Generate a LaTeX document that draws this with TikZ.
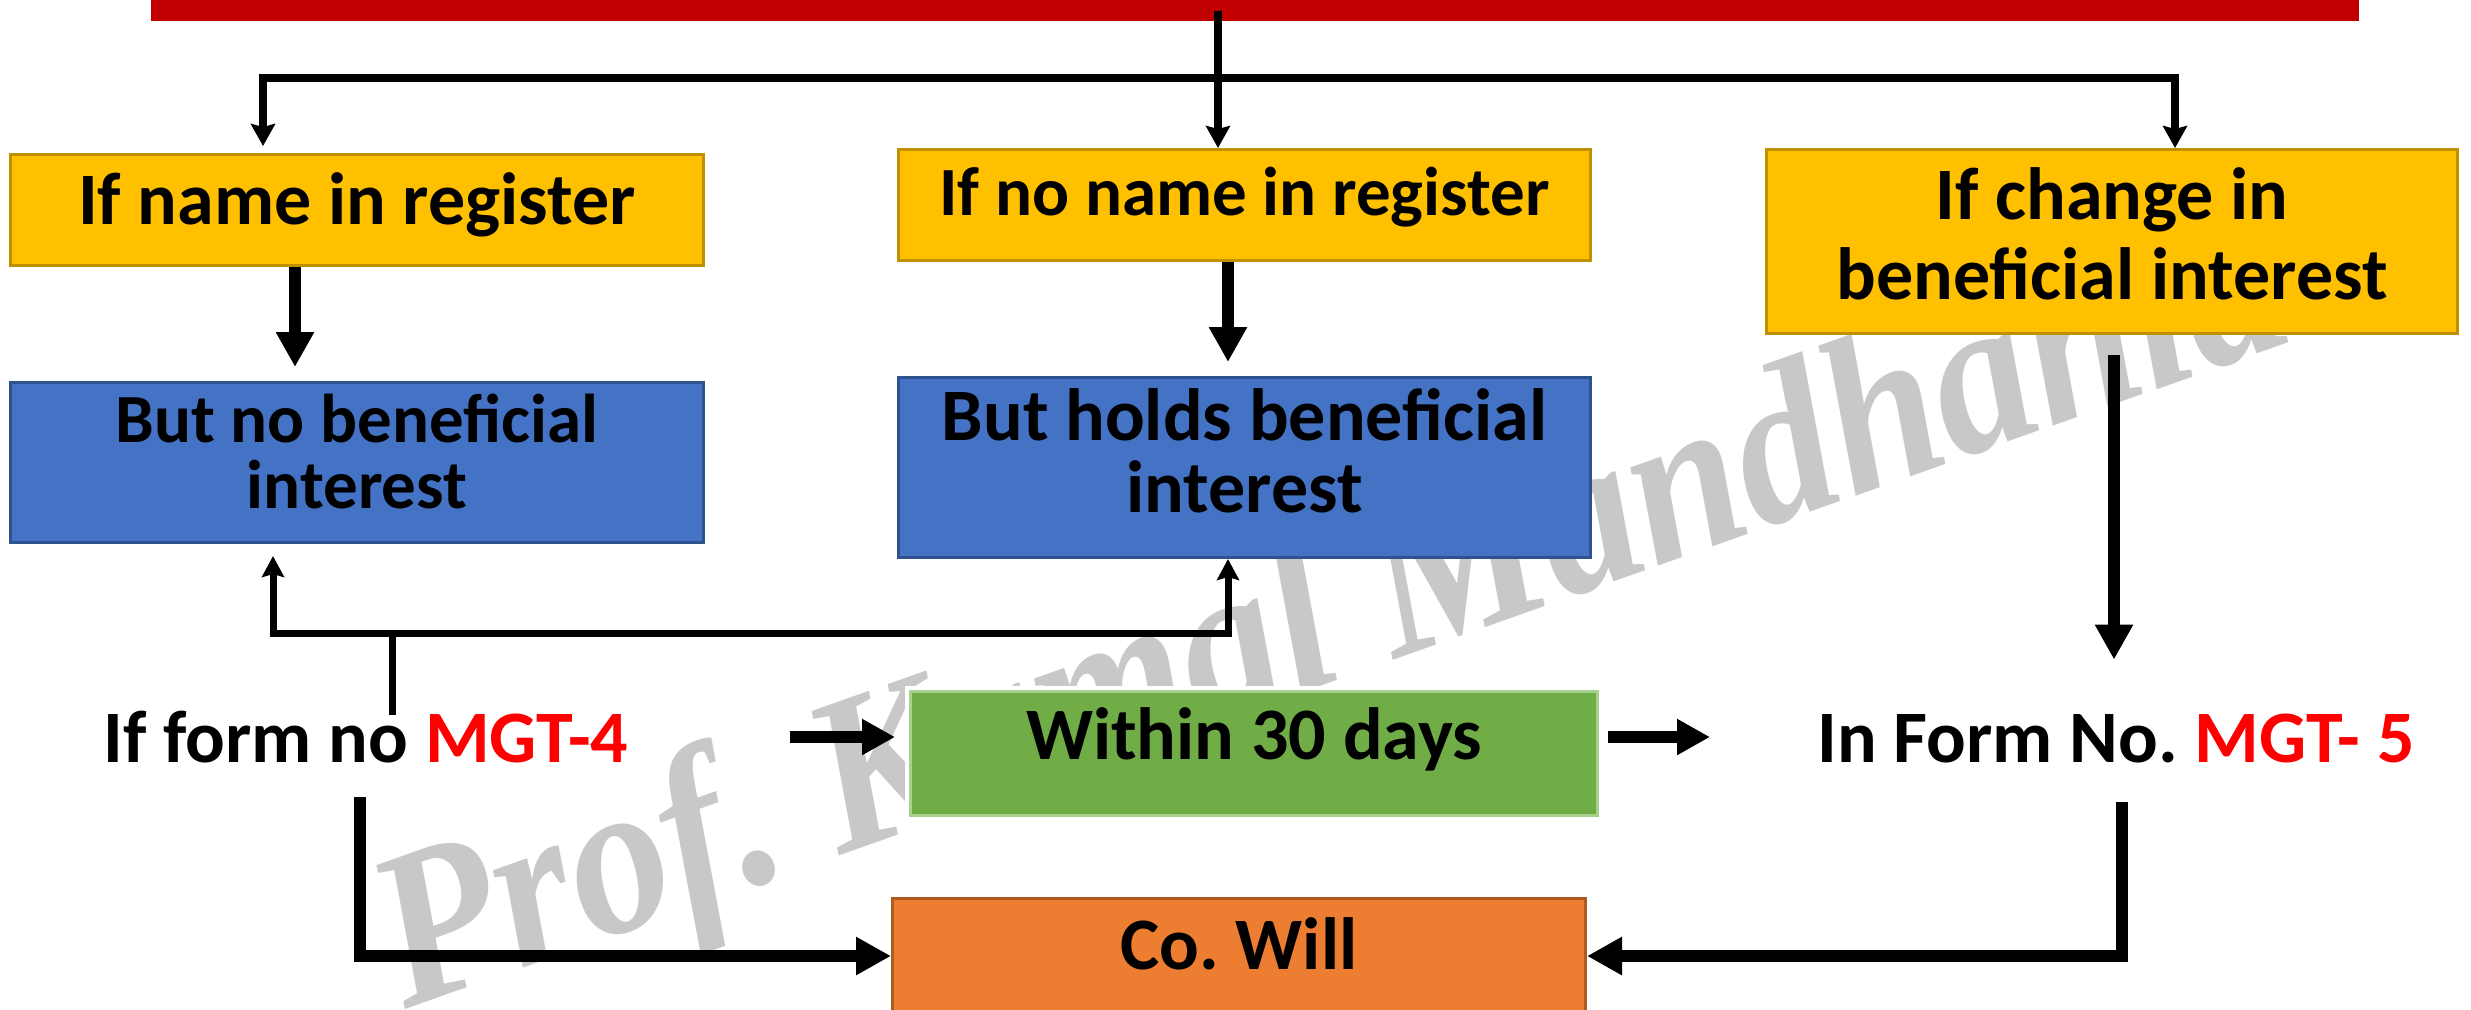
\documentclass[tikz,border=0pt]{standalone}
\usepackage{fontspec}
\setmainfont{Carlito}
\newfontfamily\markfont{Liberation Serif}
\usetikzlibrary{arrows.meta}
\frenchspacing

\definecolor{barred}{HTML}{C00000}
\definecolor{ambfill}{HTML}{FFC000}
\definecolor{ambline}{HTML}{BF9000}
\definecolor{bluefill}{HTML}{4472C4}
\definecolor{blueline}{HTML}{2F528F}
\definecolor{greenfill}{HTML}{70AD47}
\definecolor{greenline}{HTML}{A9D18E}
\definecolor{orangefill}{HTML}{ED7D31}
\definecolor{orangeline}{HTML}{AE5A21}
\definecolor{formred}{HTML}{FF0000}
\definecolor{markgray}{HTML}{C8C8C8}

\begin{document}
\begin{tikzpicture}[x=0.5pt,y=-0.5pt,
  box/.style={rectangle, inner sep=0pt, line width=1.5pt, anchor=north west,
              font=\bfseries\fontsize{37}{40}\selectfont},
  ambbox/.style={box, fill=ambfill, draw=ambline},
  bluebox/.style={box, fill=bluefill, draw=blueline},
  greenbox/.style={box, fill=greenfill, draw=greenline},
  orangebox/.style={box, fill=orangefill, draw=orangeline},
  formtext/.style={inner sep=0pt, anchor=base, font=\bfseries\fontsize{37}{40}\selectfont},
  slimline/.style={line width=3.75pt},
  fineline/.style={line width=3.5pt},
  heavyline/.style={line width=6pt},
  slimtip/.style={-{Stealth[length=11pt,width=12pt,inset=1.5pt]}},
  finetip/.style={-{Stealth[length=10.5pt,width=11pt,inset=1.5pt]}},
  heavytip/.style={-{Triangle[length=17.5pt,width=18pt]}},
  sidetip/.style={-{Triangle[length=16.5pt,width=17pt]}}
]
\fill[white] (0,0) rectangle (2471,1009);
\useasboundingbox (0,0) rectangle (2471,1009);

% watermark behind everything
\node[text=markgray, inner sep=0pt, anchor=base west, rotate=19.5, yscale=1.12,
      font=\markfont\bfseries\itshape\fontsize{99}{99}\selectfont]
  (mark) at (405,1010) {Prof. Kamal Mandhania};
\fill[white] (905,686) rectangle (1640,840);

% title bar
\node[fill=barred, inner sep=0pt, anchor=north west,
      minimum width=1104pt, minimum height=10.5pt] (bar) at (151,0) {};

% first row
\node[ambbox, minimum width=346.5pt, text height=35pt, text depth=20.5pt]
  (y1) at (9,153) {If name in register};
\node[ambbox, minimum width=346pt, text height=33pt, text depth=22.5pt,
      font=\bfseries\fontsize{34.5}{40}\selectfont]
  (y2) at (897,148) {If no name in register};
\node[ambbox, minimum width=345.5pt, text height=75pt, text depth=17pt, align=center]
  (y3) at (1765,148) {If change in\\beneficial interest};

% second row
\node[bluebox, minimum width=346.5pt, text height=63pt, text depth=17pt, align=center,
      font=\bfseries\fontsize{34.5}{33}\selectfont]
  (b1) at (9,381) {But no beneficial\\interest};
\node[bluebox, minimum width=346pt, text height=67.5pt, text depth=22.5pt, align=center,
      font=\bfseries\fontsize{37}{36}\selectfont]
  (b2) at (897,376) {But holds beneficial\\interest};

% third row
\node[formtext, text height=23.5pt, text depth=17.5pt]
  (f4) at (366,762) {If form no \textcolor{formred}{MGT-4}};
\node[greenbox, minimum width=343.5pt, text height=34pt, text depth=28pt]
  (green) at (909,690) {Within 30 days};
\node[formtext, text height=51pt, text depth=20pt]
  (f5) at (2116,762) {In Form No. \textcolor{formred}{MGT- 5}};

% bottom row
\node[orangebox, minimum width=346.5pt, text height=35.5pt, text depth=22pt]
  (will) at (891,897) {Co. Will};

% guide positions for the connectors
\coordinate (xa) at (1218,0);
\coordinate (j0) at (1218,78);
\coordinate (xl) at (263,0);
\coordinate (xr) at (2175,0);
\coordinate (xb1) at (295,0);
\coordinate (xb2) at (1228,0);
\coordinate (xc) at (2114,0);
\coordinate (j4) at (392,633);
\coordinate (xu1) at (273,0);
\coordinate (ya) at (0,737);
\coordinate (xd) at (360,0);
\coordinate (xe) at (2122,0);

% split from the title bar
\draw[slimline, slimtip] (bar.center -| xa) -- (y2.north -| xa);
\draw[slimline, slimtip, shorten >=3.5pt] (j0) -| (y1.north -| xl);
\draw[slimline, slimtip] (j0) -| (y3.north -| xr);

% first row to second row
\draw[heavyline, heavytip, shorten >=7pt] (y1.south -| xb1) -- (b1.north -| xb1);
\draw[heavyline, heavytip, shorten >=7pt] (y2.south -| xb2) -- (b2.north -| xb2);
\draw[heavyline, heavytip, shorten <=10pt] (y3.south -| xc) -- (f5.north -| xc);

% MGT-4 back to both blue boxes
\draw[fineline] (f4.north -| j4) -- (j4);
\draw[fineline, finetip, shorten >=6pt] (j4) -| (b1.south -| xu1);
\draw[fineline, finetip] (j4) -| (b2.south -| xb2);

% across the third row
\draw[heavyline, sidetip, shorten <=80.5pt, shorten >=7pt] (f4.east |- ya) -- (green.west |- ya);
\draw[heavyline, sidetip, shorten <=4.5pt, shorten >=53.5pt] (green.east |- ya) -- (f5.west |- ya);

% down to the company
\draw[heavyline, heavytip] (f4.south -| xd) |- (will.west);
\draw[heavyline, heavytip] (f5.south -| xe) |- (will.east);
\end{tikzpicture}
\end{document}
